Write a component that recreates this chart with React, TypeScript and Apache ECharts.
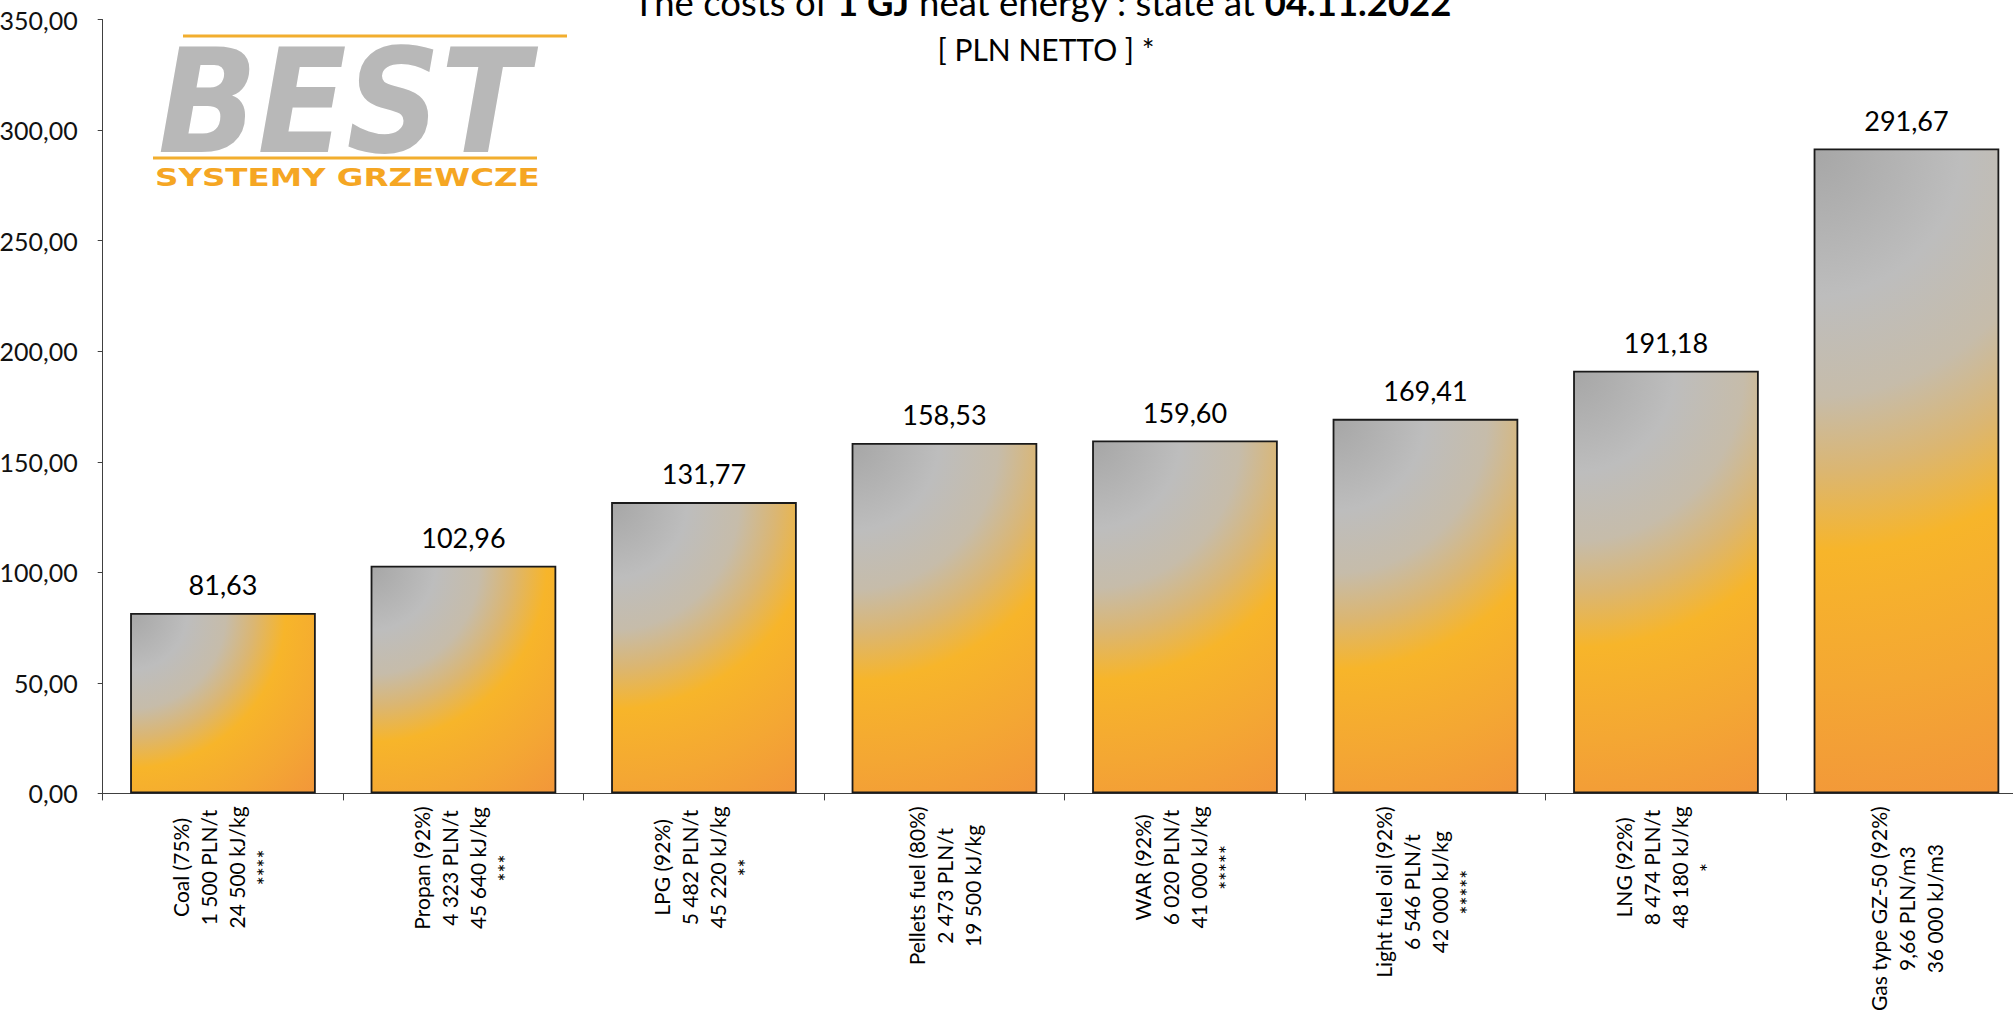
import React, { useEffect, useRef } from "react";
import * as echarts from "echarts";

const fuelNames = ["Coal (75%)", "Propan (92%)", "LPG (92%)", "Pellets fuel (80%)", "WAR (92%)", "Light fuel oil (92%)", "LNG (92%)", "Gas type GZ-50 (92%)"];
const fuelPrices = ["1 500 PLN/t", "4 323 PLN/t", "5 482 PLN/t", "2 473 PLN/t", "6 020 PLN/t", "6 546 PLN/t", "8 474 PLN/t", "9,66 PLN/m3"];
const calorificValues = ["24 500 kJ/kg", "45 640 kJ/kg", "45 220 kJ/kg", "19 500 kJ/kg", "41 000 kJ/kg", "42 000 kJ/kg", "48 180 kJ/kg", "36 000 kJ/m3"];
const footnoteMarks = ["****", "***", "**", "", "*****", "*****", "*", ""];
const costsPerGJ = [81.63, 102.96, 131.77, 158.53, 159.6, 169.41, 191.18, 291.67];

const Y_MIN = 0;
const Y_MAX = 350;
const Y_STEP = 50;

const BAR_RATIO = 0.772;
const FONT = "Lato, 'Open Sans', sans-serif";

const gradientStops = [
  { offset: 0, color: "#a6a6a6" },
  { offset: 0.22, color: "#bdbdbd" },
  { offset: 0.37, color: "#c6bcaa" },
  { offset: 0.48, color: "#dbb672" },
  { offset: 0.6, color: "#f7b52a" },
  { offset: 0.8, color: "#f4a733" },
  { offset: 1, color: "#f2963a" },
];

const fmt = (v: number) => v.toFixed(2).replace(".", ",");

const categories = fuelNames.map((n, i) =>
  [n, fuelPrices[i], calorificValues[i], footnoteMarks[i]].filter((s) => s !== "").join("\n")
);

export default function App() {
  const ref = useRef<HTMLDivElement>(null);
  useEffect(() => {
    if (!ref.current) return;
    document.documentElement.style.overflow = "hidden";
    document.body.style.overflow = "hidden";
    document.body.style.margin = "0";
    const chart = echarts.init(ref.current, null, { renderer: "svg" });
    const option: any = {
      animation: false,
      backgroundColor: "#ffffff",
      textStyle: { fontFamily: FONT },
      grid: {
        left: 102.7,
        width: 1924,
        top: 19.6,
        height: 773.8,
        containLabel: false,
        outerBoundsMode: "none",
      },
      xAxis: {
        type: "category",
        data: categories,
        axisLine: { lineStyle: { color: "#404040", width: 1 } },
        axisTick: { show: true, length: 7, lineStyle: { color: "#404040" } },
        axisLabel: {
          rotate: 90,
          margin: 13,
          interval: 0,
          hideOverlap: false,
          formatter: (v: string) => v.split("\n").map((l) => `{c|${l}}`).join("\n"),
          rich: {
            c: { align: "center", fontFamily: FONT, fontSize: 21, lineHeight: 28, color: "#000" },
          },
        },
      },
      yAxis: {
        type: "value",
        min: Y_MIN,
        max: Y_MAX,
        interval: Y_STEP,
        splitLine: { show: false },
        axisLine: { show: true, lineStyle: { color: "#404040", width: 1 } },
        axisTick: { show: true, length: 5, lineStyle: { color: "#404040" } },
        axisLabel: {
          margin: 25,
          fontFamily: FONT,
          fontSize: 25,
          color: "#111",
          formatter: (v: number) => fmt(v),
        },
      },
      series: [
        {
          type: "bar",
          barWidth: (BAR_RATIO * 100).toFixed(1) + "%",
          data: costsPerGJ,
          itemStyle: { color: "#f7b52a", borderColor: "#1a1a1a", borderWidth: 1.8 },
          label: {
            show: true,
            position: "top",
            distance: 15,
            fontFamily: FONT,
            fontSize: 27,
            color: "#000",
            formatter: (p: any) => fmt(p.value),
          },
        },
      ],
      graphic: [
        {
          type: "text",
          x: 1042,
          y: 2,
          style: {
            text: "{n|The costs of }{b|1 GJ}{n| heat energy : state at }{b|04.11.2022}",
            align: "center",
            verticalAlign: "middle",
            rich: {
              n: { fontFamily: FONT, fontSize: 36.5, fill: "#000", color: "#000" },
              b: { fontFamily: FONT, fontSize: 36.5, fontWeight: "bold", fill: "#000", color: "#000" },
            },
          },
        },
        {
          type: "text",
          x: 1046,
          y: 49,
          style: {
            text: "[ PLN NETTO ] *",
            align: "center",
            verticalAlign: "middle",
            font: `30px ${FONT}`,
            fill: "#000",
          },
        },
        {
          type: "line",
          shape: { x1: 183, y1: 36, x2: 567, y2: 36 },
          style: { stroke: "#f2ae2e", lineWidth: 3 },
        },
        {
          type: "text",
          x: 158,
          y: 102,
          scaleX: 0.9,
          style: {
            text: "BEST",
            align: "left",
            verticalAlign: "middle",
            font: "italic bold 145px 'DejaVu Sans'",
            fill: "#b8b8b8",
            stroke: "#ffffff",
            lineWidth: 1,
          },
        },
        {
          type: "line",
          shape: { x1: 153, y1: 158, x2: 537, y2: 158 },
          style: { stroke: "#f2ae2e", lineWidth: 3 },
        },
        {
          type: "text",
          x: 155,
          y: 177,
          scaleX: 1.3,
          style: {
            text: "SYSTEMY GRZEWCZE",
            align: "left",
            verticalAlign: "middle",
            font: "bold 25px 'DejaVu Sans'",
            fill: "#f5a623",
          },
        },
      ],
    };
    chart.setOption(option);

    const band = Math.abs(
      (chart.convertToPixel({ xAxisIndex: 0 }, 1) as number) - (chart.convertToPixel({ xAxisIndex: 0 }, 0) as number)
    );
    const barW = band * BAR_RATIO;
    const data = costsPerGJ.map((v, i) => {
      const top = chart.convertToPixel({ gridIndex: 0 }, [i, v]) as number[];
      const base = chart.convertToPixel({ gridIndex: 0 }, [i, 0]) as number[];
      const left = top[0] - barW / 2;
      const h = base[1] - top[1];
      const r = Math.sqrt(barW * barW + h * h);
      return {
        value: v,
        itemStyle: {
          color: { type: "radial", x: left, y: top[1], r, global: true, colorStops: gradientStops },
        },
      };
    });
    chart.setOption({ series: [{ data }] });

    return () => chart.dispose();
  }, []);
  return (
    <div
      ref={ref}
      style={{ position: "fixed", left: 0, top: 0, width: 2013, height: 1015, overflow: "hidden" }}
    />
  );
}
